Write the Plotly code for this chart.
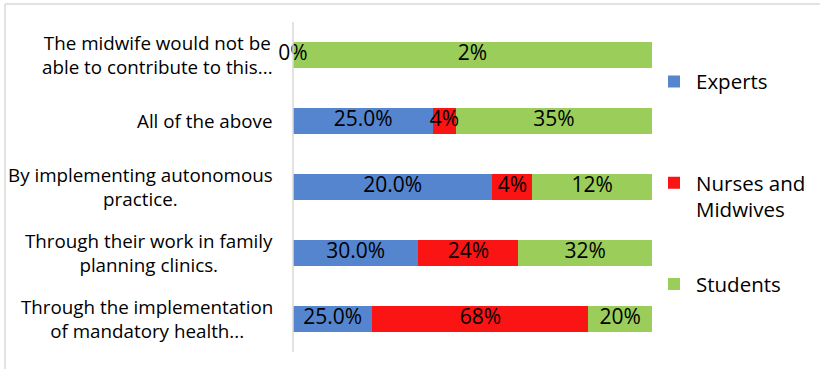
import plotly.graph_objects as go

categories = [
    "The midwife would not be<br>able to contribute to this...",
    "All of the above",
    "By implementing autonomous<br>practice.",
    "Through their work in family<br>planning clinics.",
    "Through the implementation<br>of mandatory health...",
]
experts = [0, 25.0, 20.0, 30.0, 25.0]
nurses = [0, 4, 4, 24, 68]
students = [2, 35, 12, 32, 20]
experts_labels = ["", "25.0%", "20.0%", "30.0%", "25.0%"]
nurses_labels = ["0%", "4%", "4%", "24%", "68%"]
students_labels = ["2%", "35%", "12%", "32%", "20%"]
legend_names = ["Experts<br>&nbsp;", "Nurses and<br>Midwives", "Students<br>&nbsp;"]

FONT = "Open Sans"
W, H = 820, 369
L, R, T, B = 293, 168, 22, 17
pw, ph = W - L - R, H - T - B

fig = go.Figure()
series = [
    (legend_names[0], experts, experts_labels, "#5585cf"),
    (legend_names[1], nurses, nurses_labels, "#fa1414"),
    (legend_names[2], students, students_labels, "#9acd5a"),
]
for i, (name, vals, labs, col) in enumerate(series):
    fig.add_trace(go.Bar(
        y=categories, x=vals, name=name, orientation="h",
        marker=dict(color=col, line=dict(width=0)),
        legendgroup=str(i), hoverinfo="x+name",
    ))

# data labels at the centre of each (percent-normalised) segment
lab_x, lab_y, lab_t = [], [], []
for j, c in enumerate(categories):
    total = experts[j] + nurses[j] + students[j]
    cum = 0.0
    for vals, labs in ((experts, experts_labels), (nurses, nurses_labels), (students, students_labels)):
        v = vals[j]
        if labs[j]:
            lab_x.append((cum + v / 2) / total * 100)
            lab_y.append(c)
            lab_t.append(labs[j])
        cum += v
fig.add_trace(go.Scatter(
    x=lab_x, y=lab_y, mode="text", text=lab_t,
    textposition="middle center", showlegend=False, cliponaxis=False,
    textfont=dict(family=FONT, size=21, color="black"), hoverinfo="skip",
))

annotations = []
for c in categories:
    annotations.append(dict(
        x=0, xref="paper", y=c, yref="y", text=c, showarrow=False,
        xanchor="right", align="center", xshift=-18,
        font=dict(family=FONT, size=18.8, color="black"),
    ))

shapes = [
    dict(type="line", xref="paper", yref="paper",
         x0=(5 - L) / pw, x1=(5 - L) / pw, y0=1 + (T - 4) / ph, y1=-B / ph - 0.01,
         line=dict(color="#d9d9d9", width=1.5)),
    dict(type="line", xref="paper", yref="paper",
         x0=(5 - L) / pw, x1=1 + (R) / pw, y0=1 + (T - 4) / ph, y1=1 + (T - 4) / ph,
         line=dict(color="#d9d9d9", width=1.5)),
    dict(type="line", xref="paper", yref="paper",
         x0=0, x1=0, y0=0, y1=1,
         line=dict(color="#d9d9d9", width=1.5)),
]

fig.update_layout(
    width=W, height=H,
    margin=dict(l=L, r=R, t=T, b=B, autoexpand=False),
    barmode="stack", barnorm="percent", bargap=0.62,
    plot_bgcolor="white", paper_bgcolor="white",
    font=dict(family=FONT, size=19, color="black"),
    showlegend=True,
    legend=dict(x=1.0, xanchor="left", xref="paper", y=0.88, yanchor="top",
                valign="top", tracegroupgap=45, itemwidth=34,
                font=dict(family=FONT, size=20.5, color="black"),
                traceorder="grouped"),
    xaxis=dict(visible=False, range=[0, 100]),
    yaxis=dict(autorange="reversed", showticklabels=False, showgrid=False,
               zeroline=False, showline=False, ticks=""),
    annotations=annotations, shapes=shapes,
)
fig.write_html("out.html")
